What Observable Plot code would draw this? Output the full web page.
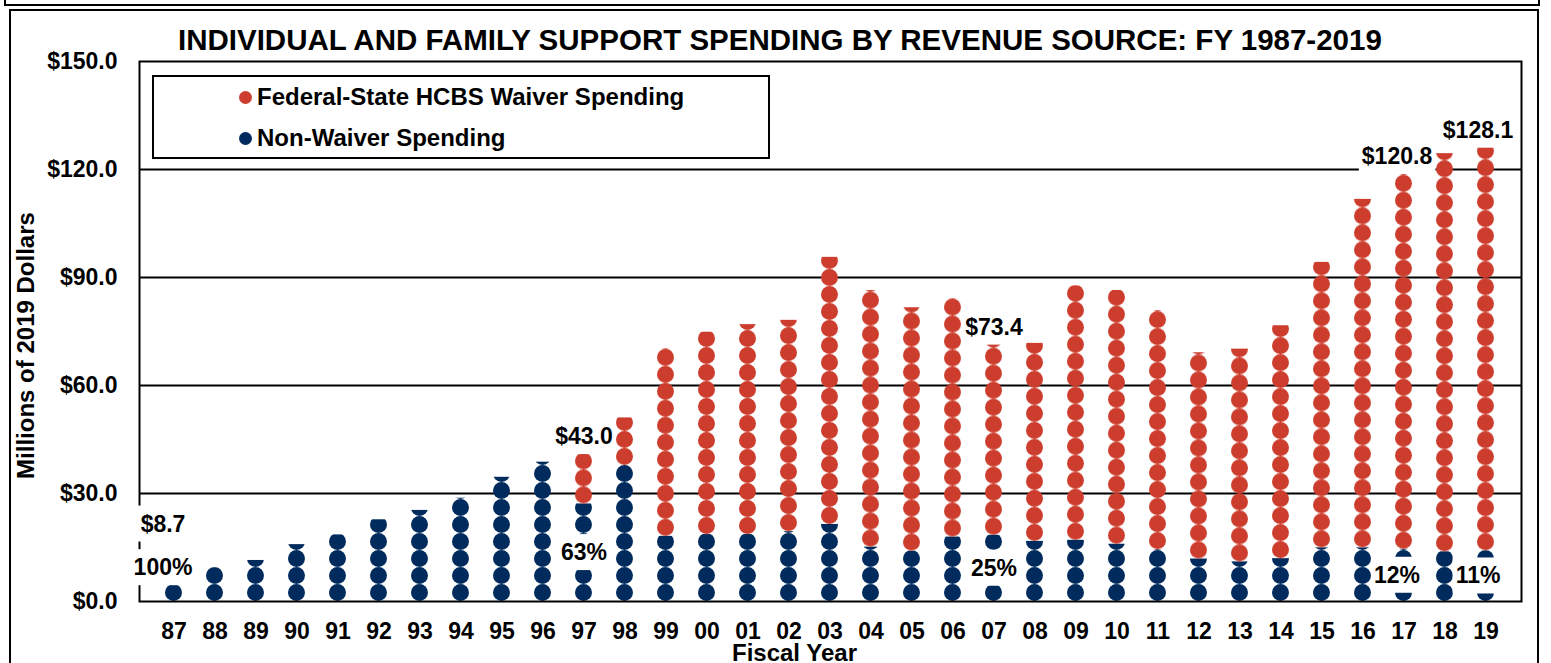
<!DOCTYPE html>
<html><head><meta charset="utf-8">
<script src="https://cdn.jsdelivr.net/npm/d3@7"></script>
<script src="https://cdn.jsdelivr.net/npm/@observablehq/plot@0.6"></script>
<style>
html,body{margin:0;padding:0;background:#fff;}
#wrap{position:relative;width:1551px;height:663px;overflow:hidden;font-family:"Liberation Sans",Arial,sans-serif;font-weight:bold;color:#000;}
#prevbox{position:absolute;left:4px;top:-40px;width:1532px;height:42px;border:2px solid #000;}
#outerbox{position:absolute;left:9px;top:9px;width:1526px;height:700px;border:2px solid #000;}
#chart{position:absolute;left:0;top:0;}
#title{position:absolute;left:178px;top:25px;font-size:29.5px;line-height:29px;white-space:nowrap;}
#legend{position:absolute;left:152px;top:75px;width:614px;height:80px;border:2px solid #000;background:#fff;}
.item{position:absolute;left:85px;height:24px;line-height:24px;display:flex;align-items:center;font-size:24px;white-space:nowrap;}
.dot{width:13px;height:13px;border-radius:50%;margin-right:5px;flex:none;}
</style>
</head><body>
<div id="wrap">
  <div id="prevbox"></div>
  <div id="outerbox"></div>
  <div id="chart"></div>
  <div id="title">INDIVIDUAL AND FAMILY SUPPORT SPENDING BY REVENUE SOURCE: FY 1987-2019</div>
  <div id="legend">
    <div class="item" style="top:8px"><span class="dot" id="dotW"></span>Federal-State HCBS Waiver Spending</div>
    <div class="item" style="top:49px"><span class="dot" id="dotN"></span>Non-Waiver Spending</div>
  </div>
</div>
<script>
// ---- data ----
const years = ["87","88","89","90","91","92","93","94","95","96","97","98","99","00","01","02","03","04","05","06","07","08","09","10","11","12","13","14","15","16","17","18","19"];
const nonWaiver = [8.7,9.4,11.4,15.8,18.5,22.7,25.3,28.7,34.5,38.7,27.1,37.8,18.1,18.6,18.6,19.4,21.4,15.1,14.0,17.9,18.4,16.7,17.0,15.9,14.4,11.8,11.0,11.9,14.9,14.9,14.5,13.8,14.1];
const waiver    = [0,0,0,0,0,0,0,0,0,0,15.9,13.2,52.1,56.2,58.3,58.7,74.2,71.3,67.6,66.2,55.0,55.0,70.7,70.5,66.4,57.3,59.1,64.7,79.3,96.8,106.3,110.6,114.0];
const labeledYears = ["87","97","07","17","19"];
const yTicks = [0,30,60,90,120,150];
const gridValues = [30,60,90,120];

// ---- style ----
const RED = "#CD3D2D", NAVY = "#002B5C";
const FONT = '"Liberation Sans", Arial, sans-serif';
const nudge = {"87": {dx:-11, dyTotal:-36, dyPct:-18}, "17": {dx:-7}, "19": {dx:-8}};
document.getElementById("dotW").style.background = RED;
document.getElementById("dotN").style.background = NAVY;

const rows = [];
years.forEach((y,i) => rows.push({year:y, series:"nw", value:nonWaiver[i]}));
years.forEach((y,i) => rows.push({year:y, series:"w", value:waiver[i]}));

const summary = years.map((y,i) => ({year:y, nw:nonWaiver[i], total:nonWaiver[i]+waiver[i]}))
  .filter(d => labeledYears.includes(d.year));
const fmtTotal = r => "$" + r.total.toFixed(1);
const fmtPct = r => Math.round(r.nw/r.total*100) + "%";
const labelTexts = new Set(summary.flatMap(r => [fmtTotal(r), fmtPct(r)]));

const labelMarks = [];
summary.forEach(d => {
  const n = nudge[d.year] || {};
  labelMarks.push(Plot.text([d], {x:"year", y:"total", text: fmtTotal,
    dx: n.dx || 0, dy: -10 + (n.dyTotal || 0), fontSize: 23, fill:"#000"}));
  labelMarks.push(Plot.text([d], {x:"year", y: r => r.nw/2, text: fmtPct,
    dx: n.dx || 0, dy: n.dyPct || 0, fontSize: 23, fill:"#000"}));
});

const chart = Plot.plot({
  width:1551, height:663, marginLeft:139, marginRight:30, marginTop:61, marginBottom:62,
  style:{fontFamily:FONT, fontSize:"23px", fontWeight:"bold", color:"#000", background:"transparent", overflow:"visible"},
  x:{domain:years, paddingInner:0.58, paddingOuter:0.29, tickSize:0, tickPadding:21, label:null},
  y:{domain:[0,150], ticks:yTicks, tickFormat:d => "$" + d.toFixed(1), tickSize:0, tickPadding:22, label:null},
  color:{type:"identity"},
  marks:[
    Plot.ruleY(gridValues, {stroke:"#000", strokeWidth:2}),
    Plot.barY(rows, Plot.stackY({x:"year", y:"value", fill: d => `url(#pat-${d.series}-${d.year})`})),
    Plot.frame({stroke:"#000", strokeWidth:2}),
    ...labelMarks,
    Plot.text(["Fiscal Year"], {frameAnchor:"bottom", textAnchor:"middle", lineAnchor:"middle", dy:52, dx:-36, fontSize:24, fill:"#000"}),
    Plot.text(["Millions of 2019 Dollars"], {frameAnchor:"left", textAnchor:"middle", lineAnchor:"middle", rotate:-90, dx:-113, dy:14, fontSize:24, fill:"#000"})
  ]
});
document.getElementById("chart").appendChild(chart);

// dot patterns positioned through the chart's own scales
const ns = "http://www.w3.org/2000/svg";
const xs = chart.scale("x"), ys = chart.scale("y");
const bw = xs.bandwidth;
const defs = document.createElementNS(ns, "defs");
years.forEach((y,i) => {
  const x0 = xs.apply(y);
  [["nw", 0, NAVY], ["w", nonWaiver[i], RED]].forEach(([s, base, col]) => {
    const p = document.createElementNS(ns, "pattern");
    p.setAttribute("id", `pat-${s}-${y}`);
    p.setAttribute("patternUnits", "userSpaceOnUse");
    p.setAttribute("x", x0);
    p.setAttribute("y", ys.apply(base));
    p.setAttribute("width", bw);
    p.setAttribute("height", bw);
    const c = document.createElementNS(ns, "circle");
    c.setAttribute("cx", bw/2); c.setAttribute("cy", bw/2); c.setAttribute("r", bw/2);
    c.setAttribute("fill", col);
    p.appendChild(c);
    defs.appendChild(p);
  });
});
chart.insertBefore(defs, chart.firstChild);

// white boxes behind data labels
chart.querySelectorAll("text").forEach(t => {
  if (!labelTexts.has(t.textContent)) return;
  const b = t.getBBox();
  const r = document.createElementNS(ns, "rect");
  r.setAttribute("x", b.x - 3); r.setAttribute("y", b.y - 5);
  r.setAttribute("width", b.width + 6); r.setAttribute("height", b.height + 10);
  r.setAttribute("fill", "#fff"); r.setAttribute("stroke", "none");
  const tr = t.getAttribute("transform");
  if (tr) r.setAttribute("transform", tr);
  t.parentNode.insertBefore(r, t);
});
</script>
</body></html>
